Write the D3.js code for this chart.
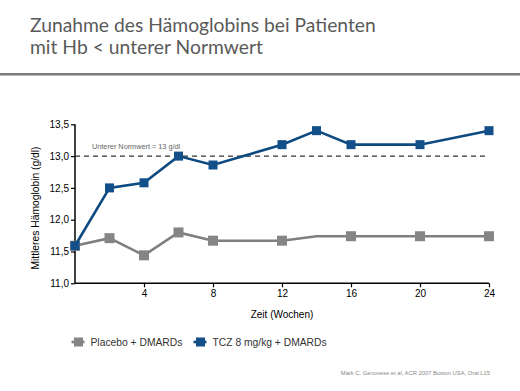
<!DOCTYPE html>
<html><head><meta charset="utf-8">
<script src="https://cdn.jsdelivr.net/npm/d3@7"></script>
<style>
html,body{margin:0;padding:0;background:#fff;}
svg{display:block;}
</style></head>
<body>
<svg id="chart" width="520" height="391"></svg>
<script>
const weeks = [0, 2, 4, 6, 8, 12, 14, 16, 20, 24];
const tczValues = [11.59, 12.5, 12.58, 13.0, 12.86, 13.18, 13.4, 13.18, 13.18, 13.4];
const placeboValues = [11.59, 11.71, 11.44, 11.8, 11.67, 11.67, 11.74, 11.74, 11.74, 11.74];
const placeboMarkerWeeks = [0, 2, 4, 6, 8, 12, 16, 20, 24];
const xTicks = [4, 8, 12, 16, 20, 24];
const yTicks = [11.0, 11.5, 12.0, 12.5, 13.0, 13.5];
const normValue = 13.0;
const seriesNames = ["Placebo + DMARDs", "TCZ 8 mg/kg + DMARDs"];
const titleLines = ["Zunahme des Hämoglobins bei Patienten", "mit Hb < unterer Normwert"];

const svg = d3.select("#chart");
const blue = "#0d4a80", blueMark = "#134f88", gray = "#7f7f7f", grayMark = "#858585";
const font = "'Liberation Sans', Arial, sans-serif";

// Title
svg.selectAll("text.title").data(titleLines).enter().append("text")
  .attr("x", 30).attr("y", (d,i)=>31.5+i*22.5)
  .attr("font-family","Lato, 'Open Sans', sans-serif").attr("font-size",19.3)
  .attr("fill","#5a5a5a").text(d=>d);
svg.append("rect").attr("x",0).attr("y",73).attr("width",520).attr("height",2.5).attr("fill","#7a7a7a");

const x = d3.scaleLinear().domain([0,24]).range([75,489]);
const y = d3.scaleLinear().domain([11,13.5]).range([283.3,124.3]);

// Axes
const fmt = d=>d3.format(".1f")(d).replace(".",",");
const yAxis = svg.append("g").attr("transform","translate(75,0)")
  .call(d3.axisLeft(y).tickValues(yTicks).tickFormat(fmt).tickSize(4).tickPadding(2));
const xAxis = svg.append("g").attr("transform","translate(0,283.3)")
  .call(d3.axisBottom(x).tickValues(xTicks).tickFormat(d3.format("d")).tickSize(4).tickPadding(3));
[yAxis,xAxis].forEach(a=>{
  a.select(".domain").attr("stroke","#000").attr("stroke-width",1.5);
  a.selectAll(".tick line").attr("stroke","#000").attr("stroke-width",1.2);
  a.selectAll("text").attr("font-family",font).attr("font-size",10).attr("fill","#000");
});
yAxis.select(".domain").attr("d","M0,"+y(13.5)+"V"+y(11));
xAxis.select(".domain").attr("d","M"+x(0)+",0H"+x(24));

svg.append("text").attr("x",282).attr("y",318).attr("text-anchor","middle")
  .attr("font-family",font).attr("font-size",10).attr("fill","#000").text("Zeit (Wochen)");
svg.append("text").attr("transform","translate(39,208) rotate(-90)").attr("text-anchor","middle")
  .attr("font-family",font).attr("font-size",10.3).attr("fill","#000").text("Mittleres Hämoglobin (g/dl)");

// Norm line
svg.append("line").attr("x1",x(0)).attr("x2",x(24)).attr("y1",y(normValue)).attr("y2",y(normValue))
  .attr("stroke","#333").attr("stroke-width",1.2).attr("stroke-dasharray","5,4");
svg.append("text").attr("x",92).attr("y",148.5).attr("font-family",font).attr("font-size",7.3)
  .attr("fill","#666").text("Unterer Normwert = 13 g/dl");

const line = d3.line().x(d=>x(d[0])).y(d=>y(d[1]));
const placeboData = weeks.map((w,i)=>[w,placeboValues[i]]);
const tczData = weeks.map((w,i)=>[w,tczValues[i]]);

svg.append("path").datum(placeboData).attr("d",line).attr("fill","none")
  .attr("stroke",gray).attr("stroke-width",2.6);
svg.selectAll("rect.pm").data(placeboData.filter(d=>placeboMarkerWeeks.includes(d[0]))).enter().append("rect")
  .attr("x",d=>x(d[0])-5).attr("y",d=>y(d[1])-5).attr("width",10).attr("height",10).attr("fill",grayMark);

svg.append("path").datum(tczData).attr("d",line).attr("fill","none")
  .attr("stroke",blue).attr("stroke-width",2.6);
svg.selectAll("rect.tm").data(tczData).enter().append("rect")
  .attr("x",d=>x(d[0])-4.5).attr("y",d=>y(d[1])-4.5).attr("width",9).attr("height",9).attr("fill",blueMark);

// Legend
const legX = [71.5, 193.5];
const legCol = [[gray,grayMark],[blue,blueMark]];
seriesNames.forEach((n,i)=>{
  const g = svg.append("g");
  g.append("line").attr("x1",legX[i]).attr("x2",legX[i]+13).attr("y1",342).attr("y2",342)
    .attr("stroke",legCol[i][0]).attr("stroke-width",2.6);
  g.append("rect").attr("x",legX[i]+2.5).attr("y",337.5).attr("width",9).attr("height",9).attr("fill",legCol[i][1]);
  g.append("text").attr("x",legX[i]+19).attr("y",345.8).attr("font-family",font).attr("font-size",10.3)
    .attr("fill","#333").text(n);
});

svg.append("text").attr("x",490).attr("y",375).attr("text-anchor","end").attr("font-family",font)
  .attr("font-size",5.8).attr("fill","#888").text("Mark C. Genovese et al, ACR 2007 Boston USA, Oral L15");
</script>
</body></html>
